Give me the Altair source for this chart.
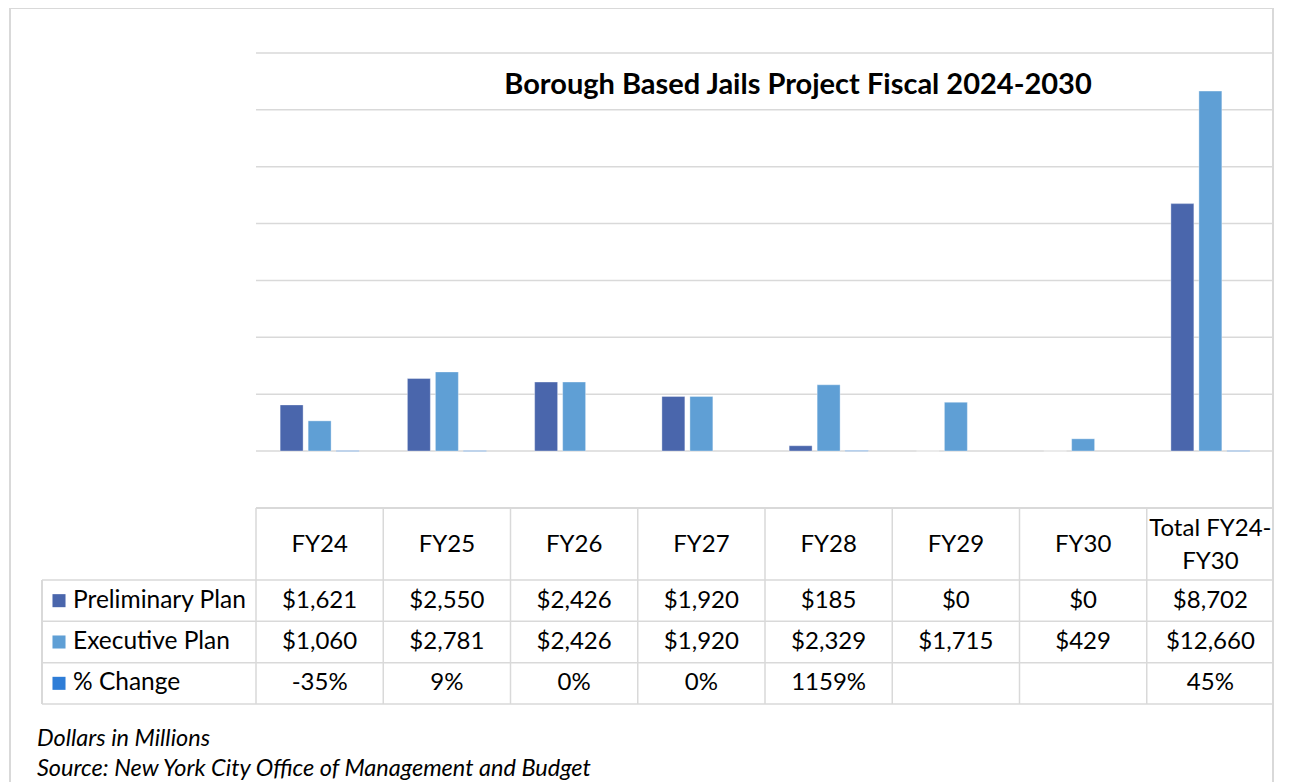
import altair as alt
import pandas as pd

# ---------------- data ----------------
categories = ["FY24", "FY25", "FY26", "FY27", "FY28", "FY29", "FY30", "Total FY24-FY30"]
preliminary = [1621, 2550, 2426, 1920, 185, 0, 0, 8702]
executive = [1060, 2781, 2426, 1920, 2329, 1715, 429, 12660]
pct_change = [-35, 9, 0, 0, 1159, None, None, 45]
series = ["Preliminary Plan", "Executive Plan", "% Change"]
colors = ["#4A66AC", "#5F9FD5", "#2E7DD7"]
y_ticks = [0, 2000, 4000, 6000, 8000, 10000, 12000, 14000]
title_text = "Borough Based Jails Project Fiscal 2024-2030"
footnotes = ["Dollars in Millions", "Source: New York City Office of Management and Budget"]

# ---------------- layout ----------------
W, H = 1266, 774
PX0, PX1 = 248, 1266
PY0, PY1 = 443, 45
HEAD_TOP = 500
ROW_TOP, ROW_BOT = 572, 696
LEFT = 34
GRID = "#D9D9D9"
FONT = "Lato"

# ---------------- tables ----------------
rows = []
for c, p, e, q in zip(categories, preliminary, executive, pct_change):
    rows.append({"cat": c, "series": series[0], "value": p})
    rows.append({"cat": c, "series": series[1], "value": e})
    rows.append({"cat": c, "series": series[2], "value": (q / 100.0) if q is not None else None, "pct": q})
bars_df = pd.DataFrame(rows)

cells = []
for c, p, e, q in zip(categories, preliminary, executive, pct_change):
    cells.append({"cat": c, "row": series[0], "label": "${:,}".format(p)})
    cells.append({"cat": c, "row": series[1], "label": "${:,}".format(e)})
    cells.append({"cat": c, "row": series[2], "label": ("{}%".format(q) if q is not None else "")})
cells_df = pd.DataFrame(cells)
cat_df = pd.DataFrame({"cat": categories})
row_df = pd.DataFrame({"row": series})
tick_df = pd.DataFrame({"tick": y_ticks})

xs = alt.Scale(domain=categories, range=[PX0, PX1], paddingInner=0, paddingOuter=0)
ys = alt.Scale(domain=[0, 14000], range=[PY0, PY1], nice=False, zero=True)
rs = alt.Scale(domain=series, range=[ROW_TOP, ROW_BOT], paddingInner=0, paddingOuter=0)
offs = alt.Scale(domain=series, paddingInner=0.18, paddingOuter=0.8625)
cs = alt.Scale(domain=series, range=colors)

X = alt.X("cat:N", sort=categories, scale=xs, axis=None)
XO = alt.XOffset("series:N", sort=series, scale=offs)

# ---------------- chart part ----------------
grid = alt.Chart(tick_df).mark_rule(color=GRID, strokeWidth=1.5).encode(
    y=alt.Y("tick:Q", scale=ys, axis=None),
    x=alt.value(PX0), x2=alt.value(PX1),
)
bars = alt.Chart(bars_df).transform_filter("datum.series != '% Change'").mark_bar(
    strokeWidth=1, strokeOpacity=0.35, stroke="white"
).encode(
    x=X, xOffset=XO,
    y=alt.Y("value:Q", scale=ys, axis=None),
    color=alt.Color("series:N", scale=cs, legend=None),
)
pct_bars = alt.Chart(bars_df).transform_filter(
    "datum.series == '% Change' && isValid(datum.pct) && datum.pct != 0"
).mark_bar(stroke="#B4CFEE", strokeWidth=1, fill="#B4CFEE").encode(
    x=X, xOffset=XO,
    y=alt.Y("value:Q", scale=ys, axis=None),
)
title = alt.Chart(pd.DataFrame({"t": [title_text]})).mark_text(
    font=FONT, fontSize=29, fontWeight="bold", color="black", align="center", baseline="middle"
).encode(text="t:N", x=alt.value(790), y=alt.value(77))

plot_part = alt.layer(grid, bars, pct_bars, title)

# ---------------- table part ----------------
RY = alt.Y("row:N", sort=series, scale=rs, axis=None)

vlines = alt.Chart(cat_df).mark_rule(color=GRID, strokeWidth=1.5).encode(
    x=alt.X("cat:N", sort=categories, scale=xs, axis=None, bandPosition=0),
    y=alt.value(HEAD_TOP), y2=alt.value(ROW_BOT),
)
vline_end = alt.Chart(cat_df).transform_filter(
    alt.datum.cat == categories[-1]
).mark_rule(color=GRID, strokeWidth=1.5).encode(
    x=alt.X("cat:N", sort=categories, scale=xs, axis=None, bandPosition=1),
    y=alt.value(HEAD_TOP), y2=alt.value(ROW_BOT),
)
hlines = alt.Chart(row_df).mark_rule(color=GRID, strokeWidth=1.5).encode(
    y=alt.Y("row:N", sort=series, scale=rs, axis=None, bandPosition=0),
    x=alt.value(LEFT), x2=alt.value(PX1),
)
hline_end = alt.Chart(row_df).transform_filter(
    alt.datum.row == series[-1]
).mark_rule(color=GRID, strokeWidth=1.5).encode(
    y=alt.Y("row:N", sort=series, scale=rs, axis=None, bandPosition=1),
    x=alt.value(LEFT), x2=alt.value(PX1),
)
head_line = alt.Chart(cat_df).mark_rule(color=GRID, strokeWidth=1.5).encode(
    x=alt.value(PX0), x2=alt.value(PX1), y=alt.value(HEAD_TOP)
)
left_line = alt.Chart(cat_df).mark_rule(color=GRID, strokeWidth=1.5).encode(
    x=alt.value(LEFT), y=alt.value(ROW_TOP), y2=alt.value(ROW_BOT)
)
header_single = alt.Chart(cat_df).transform_filter(
    "indexof(datum.cat, '-') < 0"
).mark_text(font=FONT, fontSize=24, color="black", align="center", baseline="middle").encode(
    x=X, y=alt.value(537), text="cat:N"
)
header_multi = alt.Chart(cat_df).transform_filter(
    "indexof(datum.cat, '-') >= 0"
).transform_calculate(
    lab="replace(datum.cat, '-', '-\\n')"
).mark_text(font=FONT, fontSize=24, color="black", align="center", baseline="middle",
            lineBreak="\n", lineHeight=33).encode(
    x=X, y=alt.value(521), text="lab:N"
)
cell_text = alt.Chart(cells_df).mark_text(
    font=FONT, fontSize=24, color="black", align="center", baseline="middle"
).encode(x=X, y=RY, text="label:N")
row_labels = alt.Chart(row_df).mark_text(
    font=FONT, fontSize=24.5, color="black", align="left", baseline="middle"
).encode(x=alt.value(65), y=RY, text="row:N")
swatches = alt.Chart(row_df).mark_square(size=170, opacity=1).encode(
    x=alt.value(51), y=RY,
    color=alt.Color("row:N", scale=cs, legend=None),
)

table_part = alt.layer(vlines, vline_end, hlines, hline_end, head_line, left_line,
                       header_single, header_multi, cell_text, row_labels, swatches)

# ---------------- frame & notes ----------------
frame_l = alt.Chart(cat_df).mark_rule(color=GRID, strokeWidth=2).encode(
    x=alt.value(2), y=alt.value(0), y2=alt.value(H))
frame_t = alt.Chart(cat_df).mark_rule(color=GRID, strokeWidth=2).encode(
    x=alt.value(2), x2=alt.value(W), y=alt.value(0))
frame_r = alt.Chart(cat_df).mark_rule(color=GRID, strokeWidth=2).encode(
    x=alt.value(W - 1), y=alt.value(0), y2=alt.value(H))
notes = alt.Chart(pd.DataFrame({"t": footnotes, "i": [0, 1]})).mark_text(
    font=FONT, fontSize=23.5, fontStyle="italic", color="black", align="left", baseline="alphabetic"
).encode(
    text="t:N", x=alt.value(29),
    y=alt.Y("i:Q", scale=alt.Scale(domain=[0, 1], range=[738, 768], zero=False, nice=False), axis=None),
)
frame_part = alt.layer(frame_l, frame_t, frame_r, notes)

chart = alt.layer(plot_part, table_part, frame_part).resolve_scale(
    y="independent", color="independent"
).properties(
    width=W, height=H, autosize=alt.AutoSizeParams(type="none"), padding=0
).configure_view(stroke=None, clip=False)

chart.save("out.html", embed_options={"renderer": "svg", "actions": False})
